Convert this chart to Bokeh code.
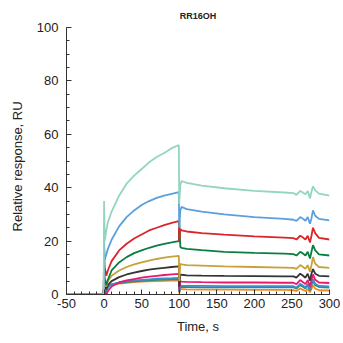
from bokeh.plotting import figure
from bokeh.models import Range1d, SingleIntervalTicker, CustomJSTickFormatter
from bokeh.embed import file_html
from bokeh.resources import INLINE

time_s = [-50, -0.5, 0, 0.8, 3, 5, 10, 20, 30, 40, 50, 60, 70, 80, 90, 99.5, 100, 101.5, 103, 110,
          130, 160, 200, 240, 252, 256, 261, 264, 268, 271, 274, 276, 278, 281, 286, 300]

teal = [0, 0, 35, 20, 24, 27, 31, 37, 41.5, 44.5, 47, 49.5, 51.5, 53, 54.8, 56, 34, 41, 42.5, 41.8,
        40.8, 39.8, 38.8, 38.2, 38, 37.3, 38.8, 38.3, 37.5, 38.8, 36, 38.5, 40.5, 39, 37.8, 37]
blue = [0, 0, 20, 13, 15, 17, 20.5, 25.5, 29, 31.5, 33.5, 35, 36.2, 37, 37.7, 38.3, 25, 31.5, 32.8, 32,
        31, 30, 29, 28.3, 28, 27.6, 29, 28.5, 27.6, 29, 26.5, 28.5, 31.5, 29.5, 28.3, 27.8]
red = [0, 0, 18, 10, 7, 9, 12.5, 16.5, 19, 21, 22.5, 24, 25, 26, 26.8, 27.5, 20, 24.5, 24, 23.6,
       23, 22.4, 21.8, 21.3, 21.1, 20.6, 22, 21.5, 20.6, 22, 19.5, 22, 25, 23, 21.2, 20.6]
green = [0, 0, 12, 6, 3.5, 5.5, 9, 12, 14, 15.5, 16.5, 17.5, 18.3, 19, 19.5, 20, 28, 17.8, 17.5, 17.1,
         16.6, 16, 15.6, 15.3, 15.1, 14.6, 16, 15.5, 14.6, 16, 13.5, 16, 18.5, 16.5, 15, 14.6]
gold = [0, 0, 8, 4, 3, 5, 7, 9, 10.3, 11.3, 12, 12.7, 13.3, 13.8, 14.2, 14.5, 5, 11.5, 11.3, 11,
        10.8, 10.5, 10.3, 10.1, 10, 9.6, 11, 10.5, 9.6, 11, 8.5, 11, 14, 11.5, 10.3, 10]
dark = [0, 0, 6, 3, 2, 3.5, 5, 6.5, 7.5, 8.2, 8.8, 9.3, 9.7, 10, 10.3, 10.5, 3, 7.5, 7.4, 7.2,
        7.1, 7, 6.9, 6.8, 6.8, 6.3, 7.8, 7.2, 6.3, 7.8, 5.2, 7.8, 9.5, 7.8, 7, 6.8]
pink = [0, 0, 5, 1, 0, 1.2, 3, 4.5, 5.3, 5.8, 6.3, 6.7, 7, 7.3, 7.5, 7.7, 2, 4.9, 4.8, 4.7,
        4.6, 4.5, 4.5, 4.4, 4.4, 3.9, 5.4, 4.8, 3.9, 5.4, 3, 5.4, 7.5, 5.5, 4.5, 4.3]
blue2 = [0, 0, 4, 0.5, 1, 2.5, 3.8, 4.5, 5, 5.3, 5.5, 5.7, 5.9, 6, 6.1, 6.2, 1, 3.4, 3.3, 3.2,
         3.2, 3.1, 3.1, 3.1, 3.1, 2.6, 4, 3.5, 2.6, 4, 1.8, 4, 5.8, 4, 3.2, 3]
teal2 = [0, 0, 3, 0.3, 1.5, 3, 3.8, 4.3, 4.6, 4.9, 5.1, 5.3, 5.5, 5.6, 5.7, 5.8, 1, 2.9, 2.8, 2.8,
         2.7, 2.7, 2.7, 2.7, 2.7, 2.2, 3.5, 3, 2.2, 3.5, 1.5, 3.5, 5, 3.5, 2.8, 2.6]
orange = [0, 0, 2, 0.5, 2.5, 3.2, 3.7, 4.1, 4.4, 4.6, 4.8, 4.9, 5, 5.1, 5.2, 5.3, 0.5, 2, 2, 1.9,
          1.8, 1.8, 1.7, 1.7, 1.6, 1.3, 2.3, 1.8, 1.3, 2.1, 0.8, 2.1, 3.5, 2.2, 1.6, 1.5]

series = [orange, teal2, blue2, pink, dark, gold, green, red, blue, teal]
colors = ["#f08a24", "#2f8a7a", "#3d8fc8", "#e8196e", "#333333", "#c8a13a", "#0b7d40", "#d8262b",
          "#5b9fdc", "#93d5bf"]

FONT = "Liberation Sans"

p = figure(width=343, height=343, output_backend="svg", toolbar_location=None,
           x_range=Range1d(-50, 300), y_range=Range1d(0, 100),
           min_border_left=66, min_border_right=14, min_border_top=27, min_border_bottom=49,
           title="RR16OH")
p.outline_line_color = None
p.grid.grid_line_color = None
p.background_fill_color = "white"

p.title.text_font = FONT
p.title.text_font_size = "9px"
p.title.text_font_style = "bold"
p.title.align = "center"
p.title.text_color = "#222222"
p.title.standoff = 14

for ys, c in zip(series, colors):
    p.line(time_s, ys, line_color=c, line_width=1.8)

for ax in (p.xaxis[0], p.yaxis[0]):
    ax.axis_line_color = "#333333"
    ax.major_tick_line_color = "#333333"
    ax.minor_tick_line_color = "#333333"
    ax.major_tick_in = 5
    ax.major_tick_out = 0
    ax.minor_tick_in = 3
    ax.minor_tick_out = 0
    ax.major_label_text_font = FONT
    ax.major_label_text_font_size = "13px"
    ax.major_label_text_color = "#222222"
    ax.axis_label_text_font = FONT
    ax.axis_label_text_font_size = "13px"
    ax.axis_label_text_font_style = "normal"
    ax.axis_label_text_color = "#222222"
    ax.formatter = CustomJSTickFormatter(code="return tick.toString();")

p.xaxis[0].ticker = SingleIntervalTicker(interval=50, num_minor_ticks=5)
p.yaxis[0].ticker = SingleIntervalTicker(interval=20, num_minor_ticks=4)
p.xaxis.axis_label = "Time, s"
p.yaxis.axis_label = "Relative response, RU" + "\u00a0" * 3
p.xaxis.major_label_standoff = 4
p.yaxis.major_label_standoff = 8
p.xaxis.axis_label_standoff = 8
p.yaxis.axis_label_standoff = 9

open("out.html", "w").write(file_html(p, INLINE))
